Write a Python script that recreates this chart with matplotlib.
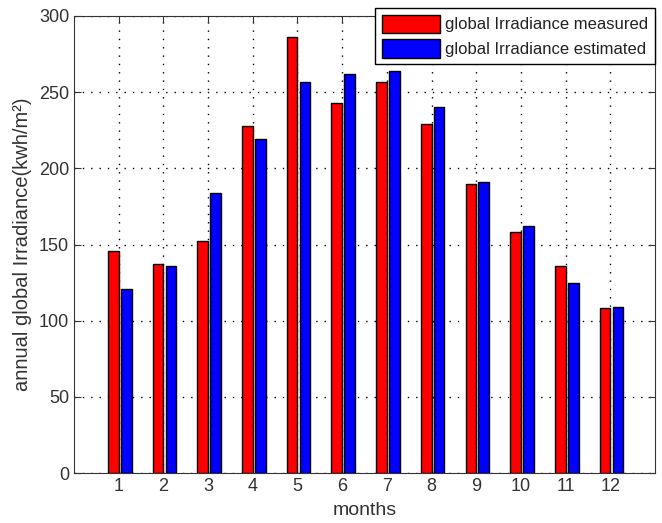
import matplotlib
matplotlib.use("Agg")
import matplotlib.pyplot as plt
import numpy as np

months = [1, 2, 3, 4, 5, 6, 7, 8, 9, 10, 11, 12]
measured = [146, 137, 152, 228, 286, 243, 257, 229, 190, 158, 136, 108]
estimated = [121, 136, 184, 219, 257, 262, 264, 240, 191, 162, 125, 109]
y_ticks = [0, 50, 100, 150, 200, 250, 300]

plt.rcParams['font.family'] = ['Liberation Sans', 'DejaVu Sans']

fig = plt.figure(figsize=(6.62, 5.23), dpi=100)
ax = fig.add_axes([74/662, 50/523, 581/662, 457/523])

x = np.array(months)
w = 0.24
ax.bar(x - 0.12, measured, width=w, color='#ff0000', edgecolor='black', linewidth=1.0,
       label='global Irradiance measured', zorder=3)
ax.bar(x + 0.17, estimated, width=w, color='#0000ff', edgecolor='black', linewidth=1.0,
       label='global Irradiance estimated', zorder=3)

ax.set_xlim(0, 13)
ax.set_ylim(0, 300)
ax.set_xticks(months)
ax.set_yticks(y_ticks)
ax.tick_params(direction='in', labelsize=13, top=True, right=True, length=5, color='#333333')
ax.grid(True, linestyle=(0, (1, 5)), color='black', linewidth=1.0, zorder=0)
for s in ax.spines.values():
    s.set_color('#333333')

ax.set_xlabel('months', fontsize=14, color='#333333', labelpad=5)
ax.set_ylabel('annual global Irradiance(kwh/m²)', fontsize=14.5, color='#333333', labelpad=5)
for lab in ax.get_xticklabels() + ax.get_yticklabels():
    lab.set_color('#333333')

leg = fig.legend(loc='upper right', bbox_to_anchor=(655/662, 1 - 8/523), fontsize=12,
                 frameon=True, fancybox=False, edgecolor='black', framealpha=1,
                 handlelength=3.5, handleheight=1.3, borderpad=0.4, labelspacing=0.4,
                 handletextpad=0.3, borderaxespad=0)
leg.get_frame().set_linewidth(1.0)
for t in leg.get_texts():
    t.set_color('#222222')

fig.savefig('out.png', dpi=100)
